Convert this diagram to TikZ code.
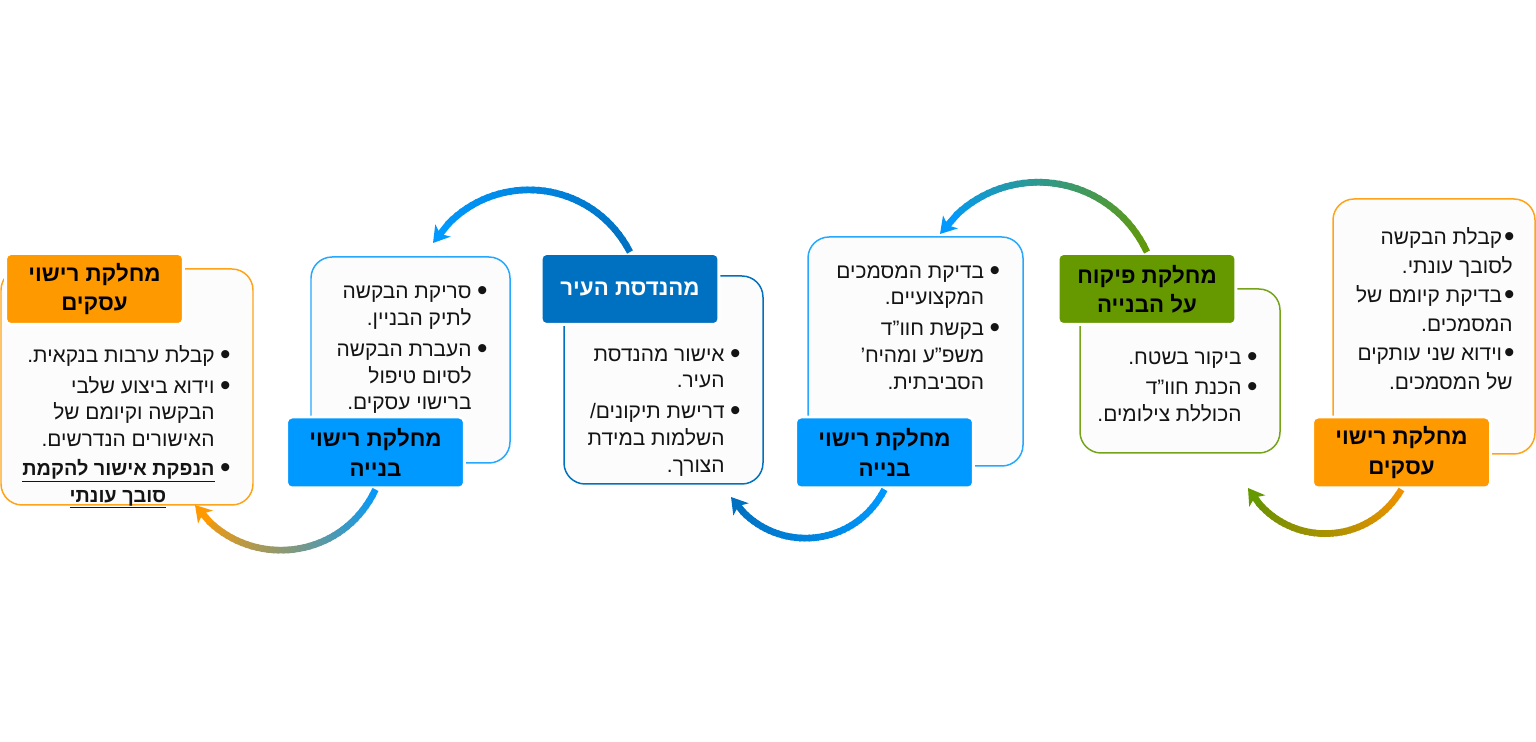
\documentclass[tikz,border=0pt]{standalone}
\usepackage{fontspec}
\setmainfont[Script=Hebrew]{Liberation Sans}
\usetikzlibrary{arrows.meta, math, calc}
\TeXXeTstate=1

\definecolor{titleorange}{HTML}{FF9900}
\definecolor{titlegreen}{HTML}{669900}
\definecolor{titleblue}{HTML}{0099FF}
\definecolor{titlenavy}{HTML}{0070C0}
\definecolor{bodyfill}{HTML}{FCFCFC}
\definecolor{texthue}{HTML}{141414}

\newcommand{\rtl}[1]{\beginR #1\endR}
\newcommand{\dotmark}{\makebox[4.6pt][l]{\kern-0.3pt\fontsize{17}{0}\selectfont\raisebox{-1.1pt}{•}}}
\newcommand{\itemline}[1]{\rtl{#1}\kern3.4pt\dotmark}
\newcommand{\contline}[1]{\rtl{#1}\kern8pt}
\newcommand{\boldline}[1]{\setbox0=\hbox{\fontsize{11.3}{15}\selectfont\bfseries\rtl{#1}}\dp0=1.5pt \underline{\box0}}

% arc from node to free end, colour runs from #3 to #4
\newcommand{\gradarc}[5]{%
    \foreach \i in {1, ..., 36}{%
        \pgfmathsetmacro{\ta}{(\i-1)/40}
        \pgfmathsetmacro{\tb}{(\i+0.4)/40}
        \pgfmathsetmacro{\mixval}{2.5*\i}
        \path (#1) to [#5] coordinate [pos=\ta] (sega) coordinate [pos=\tb] (segb) (#2);
        \colorlet{segcolor}{#4!\mixval!#3}
        \draw [arcline, draw=segcolor] (sega) -- (segb);
    }
    \path (#1) to [#5] coordinate [pos=0.9] (sega) (#2);
    \draw [arcline, draw=#4, -{Stealth[length=9pt, width=11pt, inset=2.4pt]}] (sega) -- (#2);
}

\begin{document}
\begin{tikzpicture}[x=0.02cm, y=-0.02cm,
    titlebox/.style={draw=white, line width=1.7pt, rounded corners=3pt, inner sep=0pt,
        minimum width=3.56cm, minimum height=1.42cm, align=center,
        font=\fontsize{12.7}{16.6}\selectfont\bfseries},
    bodybox/.style={line width=0.85pt, rounded corners=12pt, fill=bodyfill},
    bodytext/.style={anchor=north east, inner sep=0pt, align=right, text=texthue,
        font=\fontsize{11.9}{15.2}\selectfont},
    arcline/.style={line width=3.8pt}]
    \useasboundingbox (0, 0) rectangle (1536, 742);

    % first box
    \draw [bodybox, draw=titleorange!90] (1333, 199) rectangle (1535, 454);
    \node [bodytext, font=\fontsize{11.9}{16.5}\selectfont] (textA) at (1513, 227) {%
        \rtl{קבלת הבקשה}\kern1.4pt\dotmark\\
        \rtl{לסובך עונתי.}\\
        \rtl{בדיקת קיומם של}\kern1.4pt\dotmark\\
        \rtl{המסמכים.}\\
        \rtl{וידוא שני עותקים}\kern1.4pt\dotmark\\
        \rtl{של המסמכים.}};
    \node [titlebox, fill=titleorange] (titleA) at (1401.5, 452.5) {\rtl{מחלקת רישוי}\\\rtl{עסקים}};

    % second box
    \draw [bodybox, draw=titlegreen!90] (1080, 289) rectangle (1280, 453);
    \node [bodytext] (textB) at (1256, 351) {%
        \itemline{ביקור בשטח.}\\[2.4pt]
        \itemline{הכנת חוו"ד}\\
        \contline{הכוללת צילומים.}};
    \node [titlebox, fill=titlegreen] (titleB) at (1147, 289) {\rtl{מחלקת פיקוח}\\\rtl{על הבנייה}};

    % third box
    \draw [bodybox, draw=titleblue!85] (808, 237) rectangle (1023, 466);
    \node [bodytext] (textC) at (998.5, 265) {%
        \itemline{בדיקת המסמכים}\\
        \contline{המקצועיים.}\\[2.4pt]
        \itemline{בקשת חוו"ד}\\
        \contline{משפ"ע ומהיח'}\\
        \contline{הסביבתית.}};
    \node [titlebox, fill=titleblue] (titleC) at (884.5, 452.5) {\rtl{מחלקת רישוי}\\\rtl{בנייה}};

    % fourth box
    \draw [bodybox, draw=titlenavy] (564, 276) rectangle (763, 484);
    \node [bodytext] (textD) at (739, 348) {%
        \itemline{אישור מהנדסת}\\
        \contline{העיר.}\\[2.4pt]
        \itemline{דרישת תיקונים/}\\
        \contline{השלמות במידת}\\
        \contline{הצורך.}};
    \node [titlebox, fill=titlenavy, text=white] (titleD) at (630, 289) {\rtl{מהנדסת העיר}};

    % fifth box
    \draw [bodybox, draw=titleblue!85] (311, 257) rectangle (510, 463);
    \node [bodytext] (textE) at (486, 286) {%
        \itemline{סריקת הבקשה}\\
        \contline{לתיק הבניין.}\\[2.4pt]
        \itemline{העברת הבקשה}\\
        \contline{לסיום טיפול}\\
        \contline{ברישוי עסקים.}};
    \node [titlebox, fill=titleblue] (titleE) at (375.5, 452.5) {\rtl{מחלקת רישוי}\\\rtl{בנייה}};

    % sixth box
    \draw [bodybox, draw=titleorange!90] (1, 269) rectangle (253, 505);
    \node [bodytext] (textF) at (229, 345) {%
        \itemline{קבלת ערבות בנקאית.}\\[2.4pt]
        \itemline{וידוא ביצוע שלבי}\\
        \contline{הבקשה וקיומם של}\\
        \contline{האישורים הנדרשים.}\\[1.4pt]
        \boldline{הנפקת אישור להקמת}\kern3.4pt\dotmark\\
        \boldline{סובך עונתי}\kern35.5pt};
    \node [titlebox, fill=titleorange] (titleF) at (94.5, 289) {\rtl{מחלקת רישוי}\\\rtl{עסקים}};

    % arcs between the boxes
    \coordinate (tipA) at (1248, 488);
    \coordinate (tipB) at (940, 234);
    \coordinate (tipC) at (731, 497);
    \coordinate (tipD) at (433, 243);
    \coordinate (tipE) at (195, 505);
    \gradarc{titleA.south}{tipA}{titleorange!95!black}{titlegreen}{bend left=60, looseness=1.15}
    \gradarc{titleB.north}{tipB}{titlegreen}{titleblue}{bend right=60, looseness=1.15}
    \gradarc{titleC.south}{tipC}{titleblue}{titlenavy}{bend left=60, looseness=1.15}
    \gradarc{titleD.north}{tipD}{titlenavy}{titleblue}{bend right=60, looseness=1.15}
    \gradarc{titleE.south}{tipE}{titleblue}{titleorange}{bend left=60, looseness=1.15}
\end{tikzpicture}
\end{document}
